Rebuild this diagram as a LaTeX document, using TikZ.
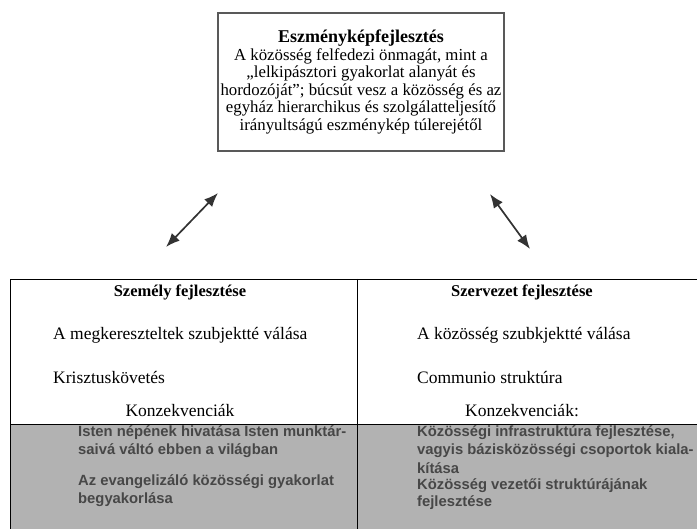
\documentclass[tikz,border=0pt]{standalone}
\usepackage{fontspec}
\setmainfont{Liberation Serif}
\newfontfamily\consfont{Liberation Sans}
\usetikzlibrary{arrows.meta}
\newcommand{\txt}{\fontsize{17.5}{20}\selectfont}

\begin{document}
\begin{tikzpicture}[x=1pt,y=-1pt,
        every node/.style={inner sep=0pt,font=\txt},
        head/.style={font=\fontsize{16.5}{20}\selectfont\bfseries},
        item/.style={anchor=west},
        cons/.style={anchor=west,font=\consfont\fontsize{14.8}{18}\selectfont\bfseries,text=black!72},
        link/.style={{Latex[length=14pt,width=11pt]}-{Latex[length=14pt,width=11pt]},line width=1.7pt,black!80}]
        \useasboundingbox (0,0) rectangle (697,529);
        %ideal
        \node[draw=black!65,line width=1.6pt,minimum width=286pt,minimum height=138pt,align=center,
              font=\fontsize{16.8}{17.6}\selectfont] (ideal) at (361,82)
        {{\fontsize{18}{18}\selectfont\textbf{Eszményképfejlesztés}}\\A közösség felfedezi önmagát, mint a\\
        „lelkipásztori gyakorlat alanyát és\\hordozóját”; búcsút vesz a közösség és az\\
        egyház hierarchikus és szolgálatteljesítő\\irányultságú eszménykép túlerejétől};

        %table
        \fill[gray!60] (10,424) rectangle (697,529);
        \draw[line width=0.8pt] (10,529) -- (10,279) -- (697,279);
        \draw[line width=0.8pt] (357,279) -- (357,529);
        \draw[line width=0.8pt] (10,424) -- (697,424);

        \node[head] (szemely) at (180,292) {Személy fejlesztése};
        \node[item] (alany) at (53,335) {A megkereszteltek szubjektté válása};
        \node[item] (kovetes) at (53,378) {Krisztuskövetés};
        \node (konzL) at (180,411) {Konzekvenciák};
        \node[cons] (hivatas) at (78,433) {Isten népének hivatása Isten munktár-};
        \node[cons] (hivatasB) at (78,451) {saivá váltó ebben a világban};
        \node[cons] (gyakorlat) at (78,482) {Az evangelizáló közösségi gyakorlat};
        \node[cons] (gyakorlatB) at (78,500) {begyakorlása};

        \node[head] (szervezet) at (522,292) {Szervezet fejlesztése};
        \node[item] (kozosseg) at (417,335) {A közösség szubkjektté válása};
        \node[item] (communio) at (417,378) {Communio struktúra};
        \node (konzR) at (522,411) {Konzekvenciák:};
        \node[cons] (infra) at (417,433) {Közösségi infrastruktúra fejlesztése,};
        \node[cons] (infraB) at (417,451) {vagyis bázisközösségi csoportok kiala-};
        \node[cons] (infraC) at (417,468) {kítása};
        \node[cons] (vezetes) at (417,486) {Közösség vezetői struktúrájának};
        \node[cons] (vezetesB) at (417,503) {fejlesztése};

        %arrows
        \coordinate (la) at (218,193);
        \coordinate (lb) at (166,247);
        \coordinate (ra) at (490,194);
        \coordinate (rb) at (530,249);
        \draw[link] (lb) -- (la);
        \draw[link] (ra) -- (rb);
    \end{tikzpicture}
\end{document}
